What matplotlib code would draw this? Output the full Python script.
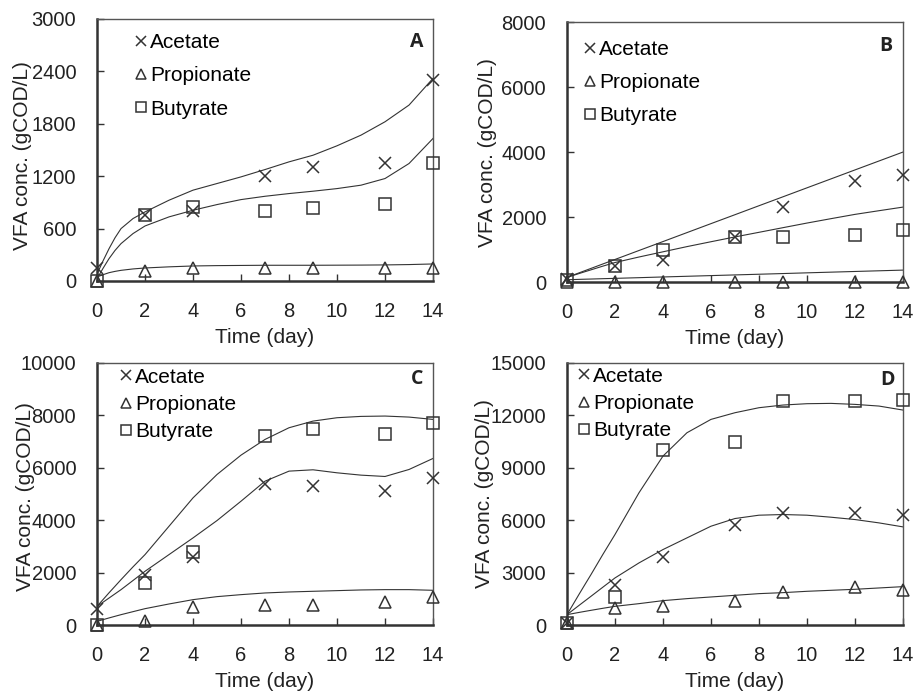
import numpy as np
import matplotlib
matplotlib.use("Agg")
import matplotlib.pyplot as plt

plt.rcParams['font.family'] = ['Liberation Sans', 'DejaVu Sans']

# Measured days
days = [0, 2, 4, 7, 9, 12, 14]

# Panel A data
a_acetate = [150, 750, 800, 1200, 1300, 1350, 2300]
a_propionate = [0, 110, 150, 150, 150, 150, 150]
a_butyrate = [0, 750, 850, 800, 830, 880, 1350]

# Panel B data
b_acetate = [100, 500, 680, 1400, 2300, 3100, 3300]
b_propionate = [0, 0, 0, 0, 0, 0, 0]
b_butyrate = [50, 500, 1000, 1400, 1400, 1440, 1600]

# Panel C data
c_acetate = [600, 1900, 2600, 5400, 5300, 5100, 5600]
c_propionate = [0, 150, 700, 780, 780, 880, 1080]
c_butyrate = [0, 1600, 2800, 7200, 7500, 7300, 7700]

# Panel D data
d_acetate = [100, 2300, 3900, 5700, 6400, 6400, 6300]
d_propionate = [100, 1000, 1100, 1400, 1900, 2200, 2000]
d_butyrate = [100, 1600, 10000, 10500, 12800, 12800, 12900]

# Model curves
model_t = [0, 0.25, 0.5, 0.75, 1, 1.5, 2, 3, 4, 5, 6, 7, 8, 9, 10, 11, 12, 13, 14]

a_acetate_fit = [80, 230, 370, 495, 600, 715, 791, 925, 1040, 1116, 1192, 1276, 1364, 1440, 1548, 1670, 1823, 2014, 2320]
a_propionate_fit = [46, 72, 95, 110, 122, 138, 149, 162, 172, 176, 178, 180, 180, 180, 181, 182, 184, 188, 195]
a_butyrate_fit = [27, 145, 256, 350, 428, 543, 630, 734, 810, 875, 932, 970, 1001, 1028, 1058, 1097, 1173, 1345, 1632]

b_acetate_fit = [143, 212, 281, 350, 419, 557, 694, 970, 1245, 1521, 1797, 2072, 2348, 2623, 2899, 3174, 3450, 3725, 4000]
b_propionate_fit = [71, 76, 82, 87, 92, 103, 113, 134, 156, 177, 198, 219, 240, 261, 283, 304, 325, 346, 367]
b_butyrate_fit = [143, 202, 260, 318, 375, 490, 600, 770, 930, 1090, 1240, 1388, 1530, 1673, 1815, 1950, 2082, 2195, 2306]

c_acetate_fit = [713, 870, 1030, 1190, 1350, 1700, 2051, 2688, 3325, 3987, 4726, 5490, 5873, 5924, 5809, 5720, 5669, 5936, 6357]
c_propionate_fit = [140, 205, 270, 333, 395, 510, 624, 803, 968, 1083, 1159, 1223, 1261, 1287, 1312, 1338, 1350, 1350, 1325]
c_butyrate_fit = [713, 970, 1230, 1480, 1732, 2220, 2688, 3770, 4853, 5745, 6484, 7083, 7529, 7783, 7911, 7962, 7975, 7936, 7847]

d_acetate_fit = [592, 856, 1120, 1382, 1643, 2170, 2694, 3554, 4319, 4988, 5656, 6096, 6287, 6325, 6287, 6172, 6038, 5847, 5618]
d_propionate_fit = [592, 656, 720, 781, 841, 958, 1070, 1223, 1395, 1510, 1605, 1700, 1796, 1853, 1930, 1987, 2045, 2121, 2197]
d_butyrate_fit = [592, 1170, 1750, 2320, 2885, 4050, 5178, 7567, 9670, 11007, 11771, 12153, 12440, 12593, 12670, 12688, 12631, 12535, 12306]

panels = [
    ('A', [0.1057, 0.5957, 0.366, 0.377], 3000, 600,
     (a_acetate, a_propionate, a_butyrate),
     (a_acetate_fit, a_propionate_fit, a_butyrate_fit), 0.68, (0.080, 0.985),
     (0.952, 0.912), (-0.195, 0.48)),
    ('B', [0.6176, 0.5942, 0.366, 0.374], 8000, 2000,
     (b_acetate, b_propionate, b_butyrate),
     (b_acetate_fit, b_propionate_fit, b_butyrate_fit), 0.66, (0.018, 0.970),
     (0.949, 0.908), (-0.207, 0.5)),
    ('C', [0.1057, 0.1007, 0.366, 0.377], 10000, 2000,
     (c_acetate, c_propionate, c_butyrate),
     (c_acetate_fit, c_propionate_fit, c_butyrate_fit), 0.40, (0.036, 1.022),
     (0.953, 0.939), (-0.185, 0.49)),
    ('D', [0.6176, 0.1007, 0.366, 0.377], 15000, 3000,
     (d_acetate, d_propionate, d_butyrate),
     (d_acetate_fit, d_propionate_fit, d_butyrate_fit), 0.40, (0.0, 1.026),
     (0.955, 0.935), (-0.218, 0.5)),
]

names = ['Acetate', 'Propionate', 'Butyrate']
markers = ['x', '^', 's']
ink = '#333333'

fig = plt.figure(figsize=(9.18, 6.95), dpi=100)

for letter, pos, ymax, ystep, series, fits, spacing, leg_xy, lpos, ylab_xy in panels:
    ax = fig.add_axes(pos)

    # Model curves
    for fit in fits:
        ax.plot(model_t, fit, color=ink, linewidth=0.8, zorder=2)

    # Measured points
    handles = []
    for vals, name, mk in zip(series, names, markers):
        h, = ax.plot(days, vals, linestyle='none', marker=mk, markersize=8,
                     markerfacecolor='none', markeredgecolor=ink,
                     markeredgewidth=1.1, clip_on=False, zorder=3, label=name)
        handles.append(h)

    ax.set_xlim(0, 14)
    ax.set_ylim(0, ymax)
    ax.set_xticks(range(0, 15, 2))
    ax.set_yticks(range(0, ymax + 1, ystep))
    ax.tick_params(direction='in', length=5, width=1, color=ink,
                   labelsize=14.5, labelcolor='#222222')
    ax.tick_params(axis='y', pad=15)
    ax.tick_params(axis='x', pad=15)

    for side in ['left', 'bottom']:
        ax.spines[side].set_linewidth(1.8)
        ax.spines[side].set_color(ink)
    for side in ['top', 'right']:
        ax.spines[side].set_linewidth(1.0)
        ax.spines[side].set_color('#555555')

    ax.set_xlabel('Time (day)', fontsize=15, color='#222222', labelpad=5)
    ax.set_ylabel('VFA conc. (gCOD/L)', fontsize=15, color='#222222')
    ax.yaxis.set_label_coords(*ylab_xy)

    ax.legend(handles=handles, loc='upper left', bbox_to_anchor=leg_xy,
              frameon=False, fontsize=15, handlelength=0.6, handletextpad=0.15,
              labelspacing=spacing, borderaxespad=0.1, markerscale=0.95)

    ax.text(lpos[0], lpos[1], letter, transform=ax.transAxes, ha='center',
            va='center', fontsize=14, fontweight='bold', color='#222222',
            family=['Open Sans', 'DejaVu Sans'])

fig.savefig('out.png', dpi=100)
